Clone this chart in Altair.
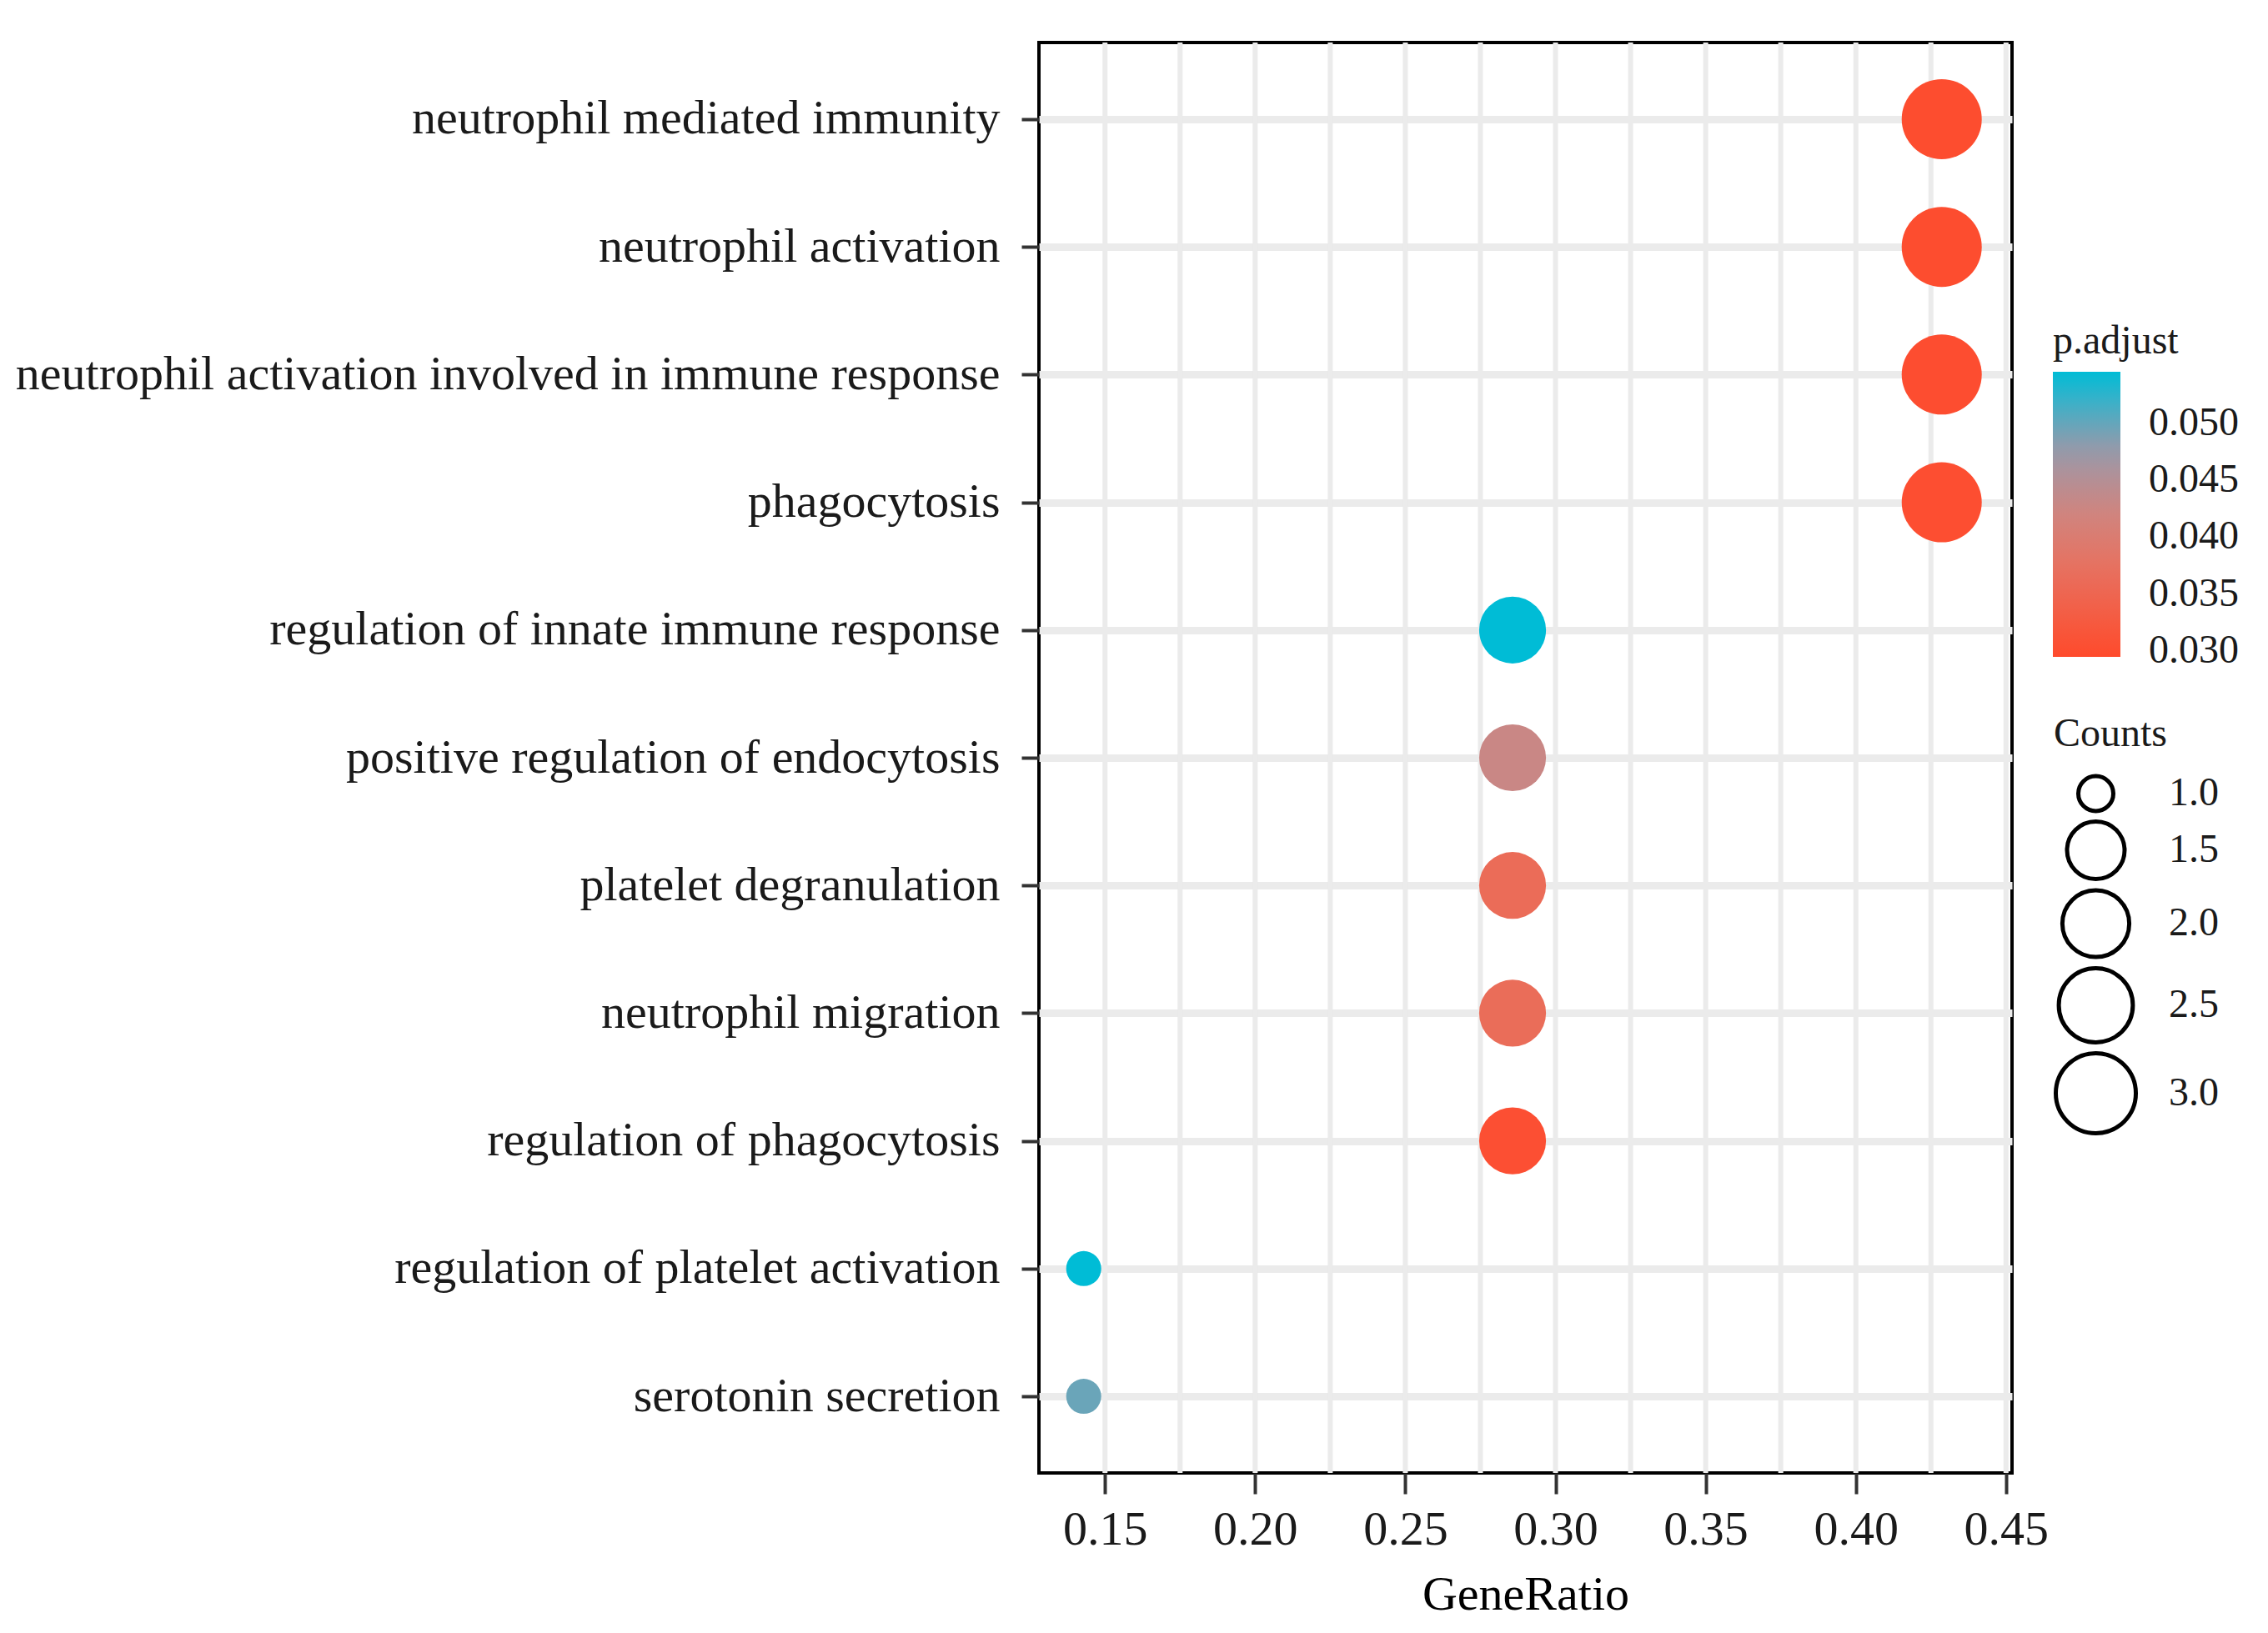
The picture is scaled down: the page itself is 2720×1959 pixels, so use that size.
import altair as alt
import pandas as pd

terms = [
    "neutrophil mediated immunity",
    "neutrophil activation",
    "neutrophil activation involved in immune response",
    "phagocytosis",
    "regulation of innate immune response",
    "positive regulation of endocytosis",
    "platelet degranulation",
    "neutrophil migration",
    "regulation of phagocytosis",
    "regulation of platelet activation",
    "serotonin secretion",
]
gene_ratio = [0.4286, 0.4286, 0.4286, 0.4286, 0.2857, 0.2857, 0.2857, 0.2857, 0.2857, 0.1429, 0.1429]
counts = [3, 3, 3, 3, 2, 2, 2, 2, 2, 1, 1]
p_adjust = [0.0300, 0.0300, 0.0301, 0.0302, 0.0545, 0.0429, 0.0362, 0.0364, 0.0305, 0.0545, 0.0497]

grid_x = [0.15, 0.175, 0.20, 0.225, 0.25, 0.275, 0.30, 0.325, 0.35, 0.375, 0.40, 0.425, 0.45]
x_ticks = [0.15, 0.20, 0.25, 0.30, 0.35, 0.40, 0.45]
p_ticks = [0.030, 0.035, 0.040, 0.045, 0.050]
count_ticks = [1.0, 1.5, 2.0, 2.5, 3.0]

# colour ramp sampled from the reference colour bar
ramp_domain = [0.0295, 0.0371, 0.0423, 0.0474, 0.0518, 0.0545]
ramp_colors = ["#FF4A2C", "#E8705E", "#CF8580", "#9C98A8", "#3DB0C8", "#00BCD6"]

df = pd.DataFrame({"term": terms, "GeneRatio": gene_ratio, "Counts": counts, "padj": p_adjust})
grid_df = pd.DataFrame({"g": grid_x})

FONT = "Liberation Serif"
xscale = alt.Scale(domain=[0.128, 0.452], nice=False, zero=False)
xaxis = alt.Axis(
    values=x_ticks, format=".2f", grid=False, domain=False,
    tickSize=25, tickWidth=4, tickColor="#333333",
    labelFont=FONT, labelFontSize=58, labelColor="#1a1a1a", labelPadding=14,
    title="GeneRatio", titleFont=FONT, titleFontSize=58, titleFontWeight="normal",
    titleColor="#000000", titlePadding=20,
)

grid = alt.Chart(grid_df).mark_rule(color="#EBEBEB", strokeWidth=6).encode(
    x=alt.X("g:Q", scale=xscale, axis=xaxis, title="GeneRatio")
)

points = alt.Chart(df).mark_circle(opacity=1).encode(
    x=alt.X("GeneRatio:Q", scale=xscale, axis=xaxis, title="GeneRatio"),
    y=alt.Y(
        "term:N",
        sort=terms,
        scale=alt.Scale(padding=0.6),
        axis=alt.Axis(
            title=None, domain=False, grid=True, gridColor="#EBEBEB", gridWidth=9,
            tickSize=21, tickWidth=4, tickColor="#333333",
            labelFont=FONT, labelFontSize=58, labelColor="#1a1a1a", labelPadding=26,
            labelLimit=2000, minExtent=1233, maxExtent=1233,
        ),
    ),
    color=alt.Color(
        "padj:Q",
        scale=alt.Scale(domain=ramp_domain, range=ramp_colors, interpolate="rgb"),
        legend=alt.Legend(
            title="p.adjust", orient="none", legendX=1216, legendY=335,
            direction="vertical", values=p_ticks, format=".3f",
            gradientLength=342, gradientThickness=81, gradientStrokeWidth=0,
            labelFont=FONT, labelFontSize=48, labelColor="#1a1a1a", labelOffset=34,
            titleFont=FONT, titleFontSize=48, titleFontWeight="normal", titleColor="#1a1a1a",
            titlePadding=12, padding=0,
        ),
    ),
    size=alt.Size(
        "Counts:Q",
        scale=alt.Scale(domain=count_ticks, range=[1764, 4761, 6432, 7885, 9216], zero=False),
        legend=alt.Legend(
            title="Counts", orient="none", legendX=1217, legendY=806,
            values=count_ticks, format=".1f", symbolType="circle",
            symbolFillColor="transparent", symbolStrokeColor="black", symbolStrokeWidth=5,
            symbolOpacity=1, rowPadding=-8,
            labelFont=FONT, labelFontSize=48, labelColor="#1a1a1a", labelOffset=37,
            titleFont=FONT, titleFontSize=48, titleFontWeight="normal", titleColor="#1a1a1a",
            titlePadding=23, padding=0,
        ),
    ),
)

chart = alt.layer(grid, points).properties(
    width=1167, height=1716,
    padding={"left": 5, "top": 40, "right": 5, "bottom": 5},
    background="white",
).configure_view(stroke="black", strokeWidth=4)

chart.save("out.html", embed_options={"renderer": "svg", "actions": False})
